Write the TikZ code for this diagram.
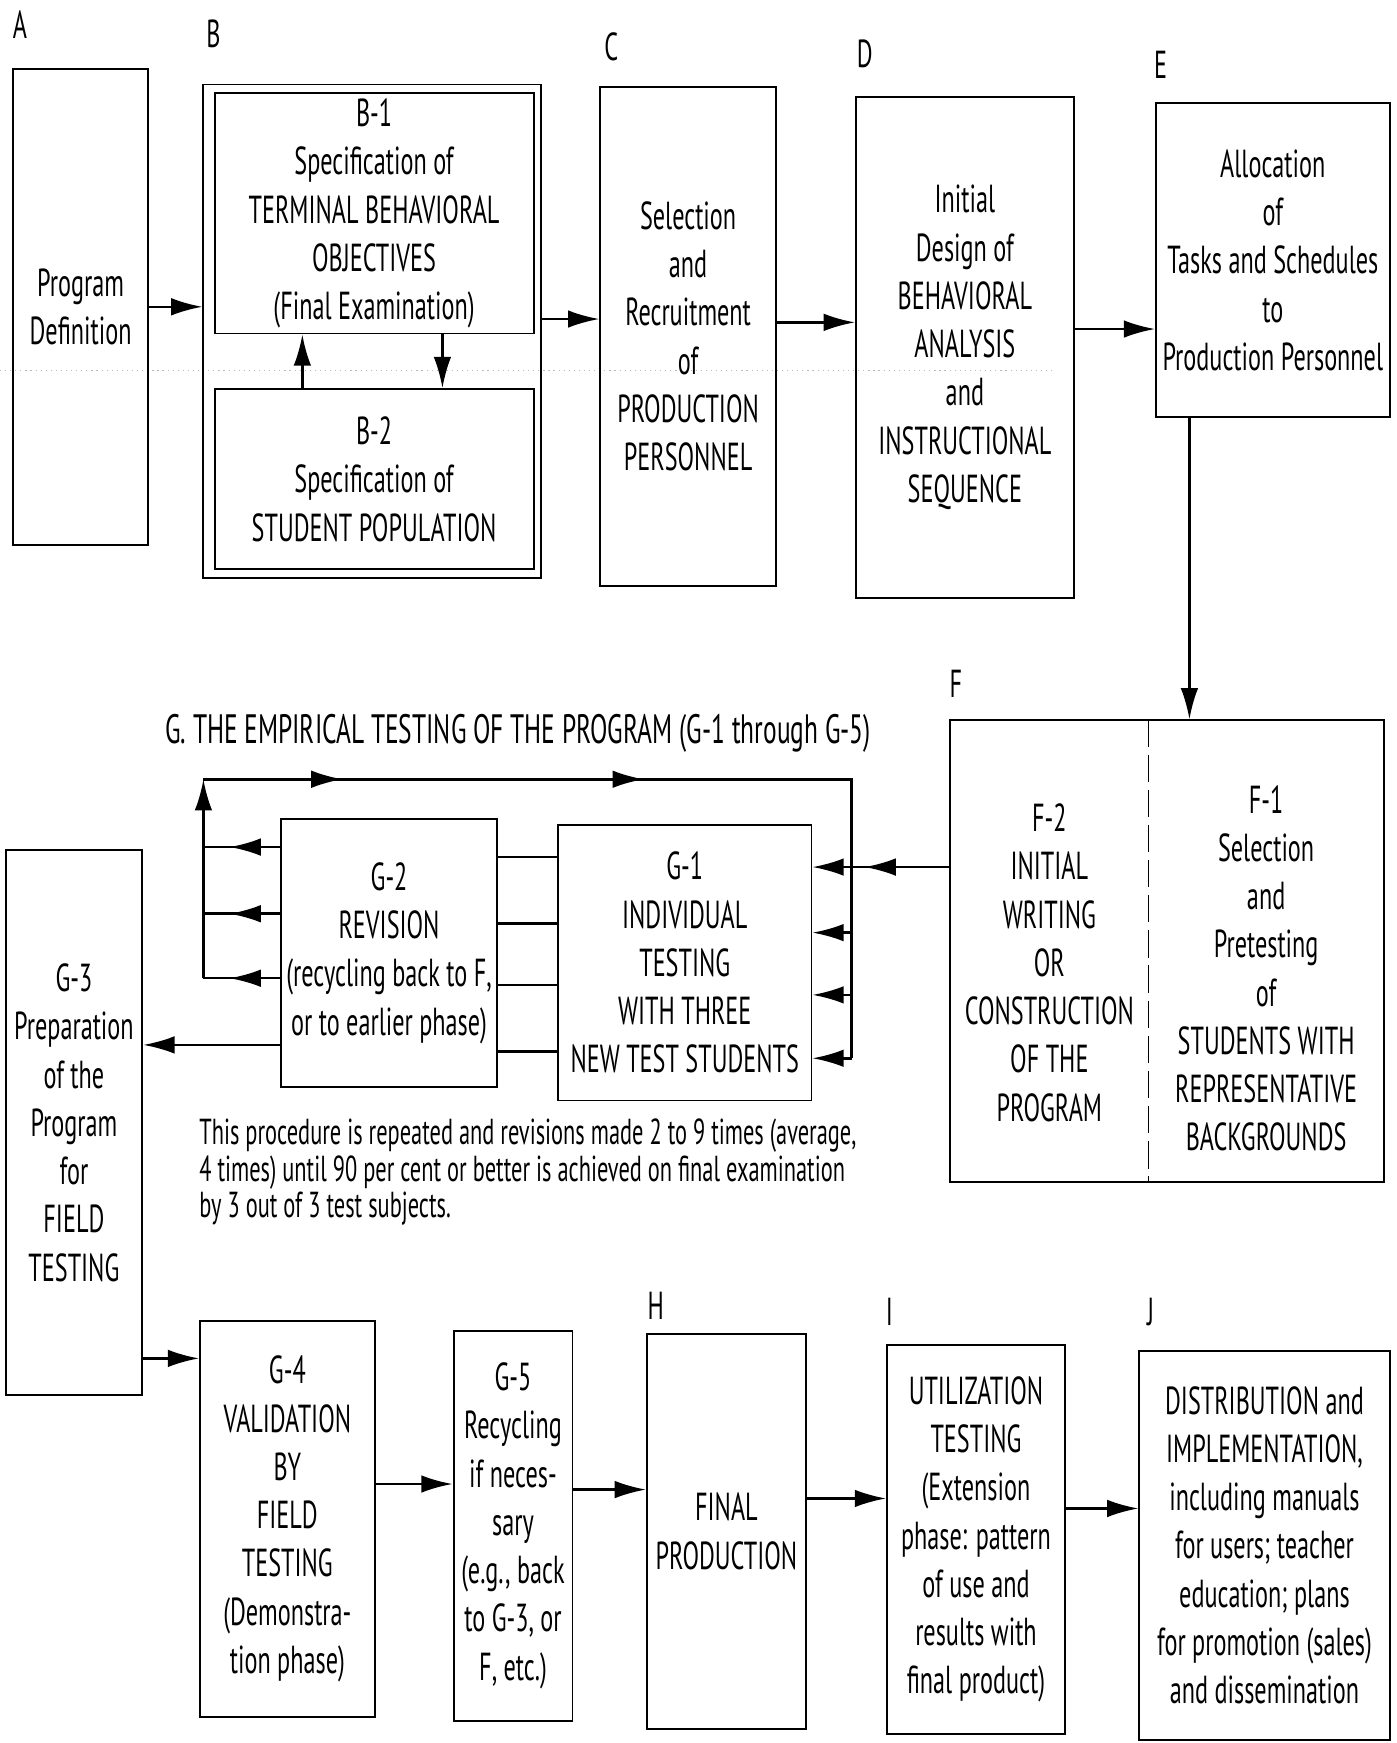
\documentclass[tikz,border=0pt]{standalone}
\usepackage{fontspec}
\setmainfont{PT Sans}[FakeStretch=0.62]
\usetikzlibrary{arrows.meta,decorations.markings,calc}

\newcommand\boxfont{\fontsize{20}{24.7}\selectfont}
\newcommand\titlefont{\fontsize{21}{24}\selectfont}
\newcommand\notefont{\fontsize{18.5}{18.8}\selectfont}

\begin{document}
\begin{tikzpicture}[x=0.02cm,y=-0.02cm,
  box/.style={draw, line width=1pt, align=center, inner sep=0pt, font=\boxfont},
  sz/.style 2 args={minimum width=#1*0.02cm, minimum height=#2*0.02cm},
  txt/.style={align=center, inner sep=0pt, font=\boxfont},
  lbl/.style={inner sep=0pt, font=\boxfont},
  tip/.tip={Latex[length=16pt,width=9pt]},
  arr/.style={line width=1.3pt, -tip},
  conn/.style={line width=1.3pt},
  midarrow/.style={postaction=decorate,
    decoration={markings, mark=at position #1 with {\arrow{tip}}}},
  twomid/.style 2 args={postaction=decorate,
    decoration={markings, mark=at position #1 with {\arrow{tip}},
                          mark=at position #2 with {\arrow{tip}}}},
]
\useasboundingbox (0,0) rectangle (1256,1568);

% faint fold line across the upper row
\draw[gray!55, dotted, line width=0.6pt] (0,333) -- (950,333);

% ---------- upper row ----------
\node[lbl] (labA) at (18,22) {A};
\node[box, sz={121}{428}] (A) at (72.5,276) {Program\\Definition};

\node[lbl] (labB) at (192,30) {B};
\node[draw, line width=1pt, sz={304}{444}] (B) at (335,298) {};
\node[box, sz={287}{216}] (B1) at (336.5,192)
  {B-1\\Specification of\\TERMINAL BEHAVIORAL\\OBJECTIVES\\(Final Examination)};
\node[box, sz={287}{162}] (B2) at (336.5,431)
  {B-2\\Specification of\\STUDENT POPULATION};

\node[lbl] (labC) at (550,42) {C};
\node[box, sz={158}{449}] (C) at (619,302.5)
  {Selection\\and\\Recruitment\\of\\PRODUCTION\\PERSONNEL};

\node[lbl] (labD) at (778,48) {D};
\node[box, sz={196}{451}] (D) at (868,312.5)
  {Initial\\Design of\\BEHAVIORAL\\ANALYSIS\\and\\INSTRUCTIONAL\\SEQUENCE};

\node[lbl] (labE) at (1044,58) {E};
\node[box, sz={210}{282}] (E) at (1145,234)
  {Allocation\\of\\Tasks and Schedules\\to\\Production Personnel};

% ---------- F block ----------
\node[lbl] (labF) at (860,615) {F};
\node[draw, line width=1pt, sz={390}{415}] (F) at (1050,855.5) {};
\coordinate (fdiv) at (1033,0);
\draw[line width=0.7pt, dash pattern=on 14pt off 4pt] (F.north -| fdiv) -- (F.south -| fdiv);
\node[txt] (F2) at (944,866)
  {F-2\\INITIAL\\WRITING\\OR\\CONSTRUCTION\\OF THE\\PROGRAM};
\node[txt] (F1) at (1139,871)
  {F-1\\Selection\\and\\Pretesting\\of\\STUDENTS WITH\\REPRESENTATIVE\\BACKGROUNDS};

% ---------- G block ----------
\node[lbl, font=\titlefont] (Gtitle) at (466,660)
  {G.\ THE EMPIRICAL TESTING OF THE PROGRAM (G-1 through G-5)};

\node[box, sz={228}{248}] (G1) at (616,866)
  {G-1\\INDIVIDUAL\\TESTING\\WITH THREE\\NEW TEST STUDENTS};
\node[box, sz={194}{241}] (G2) at (350,857.5)
  {G-2\\REVISION\\(recycling back to F,\\or to earlier phase)};
\node[box, sz={123}{490}] (G3) at (66.5,1010)
  {G-3\\Preparation\\of the\\Program\\for\\FIELD\\TESTING};

\node[anchor=north west, align=left, inner sep=0pt, font=\notefont] (note) at (179,1006)
  {This procedure is repeated and revisions made 2 to 9 times (average,\\
   4 times) until 90 per cent or better is achieved on final examination\\
   by 3 out of 3 test subjects.};

% ---------- lower row ----------
\node[box, sz={157}{357}] (G4) at (258.5,1366.5)
  {G-4\\VALIDATION\\BY\\FIELD\\TESTING\\(Demonstra-\\tion phase)};
\node[box, sz={107}{351}] (G5) at (461.5,1372.5)
  {G-5\\Recycling\\if neces-\\sary\\(e.g., back\\to G-3, or\\F, etc.)};

\node[lbl] (labH) at (590,1175) {H};
\node[box, sz={143}{355}] (H) at (653.5,1377.5) {FINAL\\PRODUCTION};

\node[lbl] (labI) at (800,1180) {I};
\node[box, sz={160}{350}] (I) at (878,1385)
  {UTILIZATION\\TESTING\\(Extension\\phase: pattern\\of use and\\results with\\final product)};

\node[lbl] (labJ) at (1035,1180) {J};
\node[box, sz={225}{350}] (J) at (1137.5,1390)
  {DISTRIBUTION and\\IMPLEMENTATION,\\including manuals\\for users; teacher\\education; plans\\for promotion (sales)\\and dissemination};

% ---------- connectors: upper row ----------
\draw[arr] (A.east) -- (A.east -| B.west);
\draw[arr] (B.east |- 0,287) -- (C.west |- 0,287);
\draw[arr] (C.east |- 0,290) -- (D.west |- 0,290);
\draw[arr] (D.east |- 0,296) -- (E.west |- 0,296);
\draw[arr] (B2.north -| 272,0) -- (B1.south -| 272,0);
\draw[arr] (B1.south -| 398,0) -- (B2.north -| 398,0);
\draw[arr] (E.south -| 1070,0) -- (F.north -| 1070,0);

% ---------- connectors: testing loop ----------
\coordinate (railTL) at (183,701);
\coordinate (railBL) at (183,880);
\coordinate (railTR) at (766,701);
\coordinate (railBR) at (766,952);
\draw[conn, twomid={0.15}{0.475}] (railTL) -- (railTR) -- (railBR);
\draw[arr] (railBL) -- (railTL);
\draw[conn, midarrow=0.62, -tip] (F.west |- 0,780) -- (G1.east |- 0,780);
\draw[arr] (railBR |- 0,839) -- (G1.east |- 0,839);
\draw[arr] (railBR |- 0,895) -- (G1.east |- 0,895);
\draw[arr] (railBR) -- (G1.east |- railBR);
\foreach \yy in {762,822,880}
  \draw[conn, midarrow=0.66] (G2.west |- 0,\yy) -- (railTL |- 0,\yy);
\foreach \yy in {771,831,886,946}
  \draw[conn] (G1.west |- 0,\yy) -- (G2.east |- 0,\yy);
\draw[arr] (G2.west |- 0,940) -- (G3.east |- 0,940);

% ---------- connectors: lower row ----------
\draw[arr] (G3.east |- 0,1222) -- (G4.west |- 0,1222);
\draw[arr] (G4.east |- 0,1335) -- (G5.west |- 0,1335);
\draw[arr] (G5.east |- 0,1340) -- (H.west |- 0,1340);
\draw[arr] (H.east |- 0,1348) -- (I.west |- 0,1348);
\draw[arr] (I.east |- 0,1357) -- (J.west |- 0,1357);
\end{tikzpicture}
\end{document}
